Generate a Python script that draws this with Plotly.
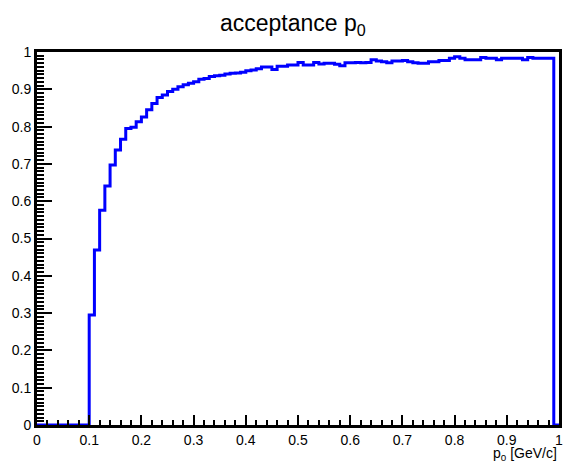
import plotly.graph_objects as go

# Histogram: 100 bins from 0 to 1 (width 0.01)
bin_width = 0.01
n_bins = 100
bin_edges = [round(i * bin_width, 2) for i in range(n_bins + 1)]

acceptance = [
    0, 0, 0, 0, 0, 0, 0, 0, 0, 0,                                   # 0.00-0.09
    0.295, 0.469, 0.576, 0.641, 0.697, 0.737, 0.766, 0.795, 0.798, 0.813,  # 0.10-0.19
    0.826, 0.845, 0.862, 0.878, 0.885, 0.894, 0.900, 0.907, 0.912, 0.916,  # 0.20-0.29
    0.920, 0.927, 0.929, 0.934, 0.936, 0.938, 0.941, 0.943, 0.944, 0.946,  # 0.30-0.39
    0.950, 0.952, 0.955, 0.960, 0.960, 0.953, 0.962, 0.962, 0.965, 0.965,  # 0.40-0.49
    0.972, 0.965, 0.965, 0.972, 0.968, 0.970, 0.970, 0.967, 0.963, 0.971,  # 0.50-0.59
    0.971, 0.972, 0.971, 0.972, 0.979, 0.976, 0.974, 0.971, 0.976, 0.976,  # 0.60-0.69
    0.977, 0.974, 0.971, 0.970, 0.970, 0.974, 0.974, 0.977, 0.977, 0.983,  # 0.70-0.79
    0.987, 0.983, 0.979, 0.979, 0.979, 0.985, 0.983, 0.983, 0.979, 0.983,  # 0.80-0.89
    0.983, 0.983, 0.983, 0.979, 0.985, 0.983, 0.983, 0.983, 0.983, 0,      # 0.90-0.99
]

x_ticks = [round(0.1 * i, 1) for i in range(11)]
x_tick_labels = ["0", "0.1", "0.2", "0.3", "0.4", "0.5", "0.6", "0.7", "0.8", "0.9", "1"]
y_ticks = [round(0.1 * i, 1) for i in range(11)]
y_tick_labels = ["0", "0.1", "0.2", "0.3", "0.4", "0.5", "0.6", "0.7", "0.8", "0.9", "1"]

title_text = "acceptance p<sub>0</sub>"
x_title = "p<sub>0</sub> [GeV/c]"

# step line through the bins (ROOT-like histogram outline)
xs = list(bin_edges)
ys = list(acceptance) + [acceptance[-1]]

FONT = "Liberation Sans, Arial, Helvetica, sans-serif"

fig = go.Figure()
fig.add_trace(go.Scatter(
    x=xs, y=ys, mode="lines", line_shape="hv",
    line=dict(color="#0000ff", width=3),
    hoverinfo="skip", showlegend=False, cliponaxis=True,
))

fig.update_layout(
    width=566, height=462,
    margin=dict(l=37, r=4, t=52, b=37),
    paper_bgcolor="white", plot_bgcolor="white",
    font=dict(family=FONT, size=14, color="black"),
    showlegend=False,
)

fig.update_xaxes(
    range=[0, 1], showgrid=False, zeroline=False,
    showline=True, linecolor="black", linewidth=3, mirror=True,
    tickmode="array", tickvals=x_ticks, ticktext=x_tick_labels,
    ticks="inside", ticklen=10, tickwidth=2, tickcolor="black",
    minor=dict(ticks="inside", ticklen=5, tickwidth=2, tickcolor="black", dtick=0.02, showgrid=False),
    tickfont=dict(family=FONT, size=14),
)
fig.update_yaxes(
    range=[0, 1], showgrid=False, zeroline=False,
    showline=True, linecolor="black", linewidth=3, mirror=True,
    tickmode="array", tickvals=y_ticks, ticktext=y_tick_labels,
    ticks="inside", ticklen=15, tickwidth=2, tickcolor="black",
    minor=dict(ticks="inside", ticklen=7, tickwidth=2, tickcolor="black", dtick=0.01, showgrid=False),
    tickfont=dict(family=FONT, size=14),
)

fig.add_annotation(
    text=title_text, xref="paper", yref="paper",
    x=0.49, y=1, yshift=28, showarrow=False,
    xanchor="center", yanchor="middle",
    font=dict(family=FONT, size=23, color="black"),
)
fig.add_annotation(
    text=x_title, xref="paper", yref="paper",
    x=1, y=0, yshift=-29, showarrow=False,
    xanchor="right", yanchor="middle",
    font=dict(family=FONT, size=14, color="black"),
)

fig.write_html("out.html")
